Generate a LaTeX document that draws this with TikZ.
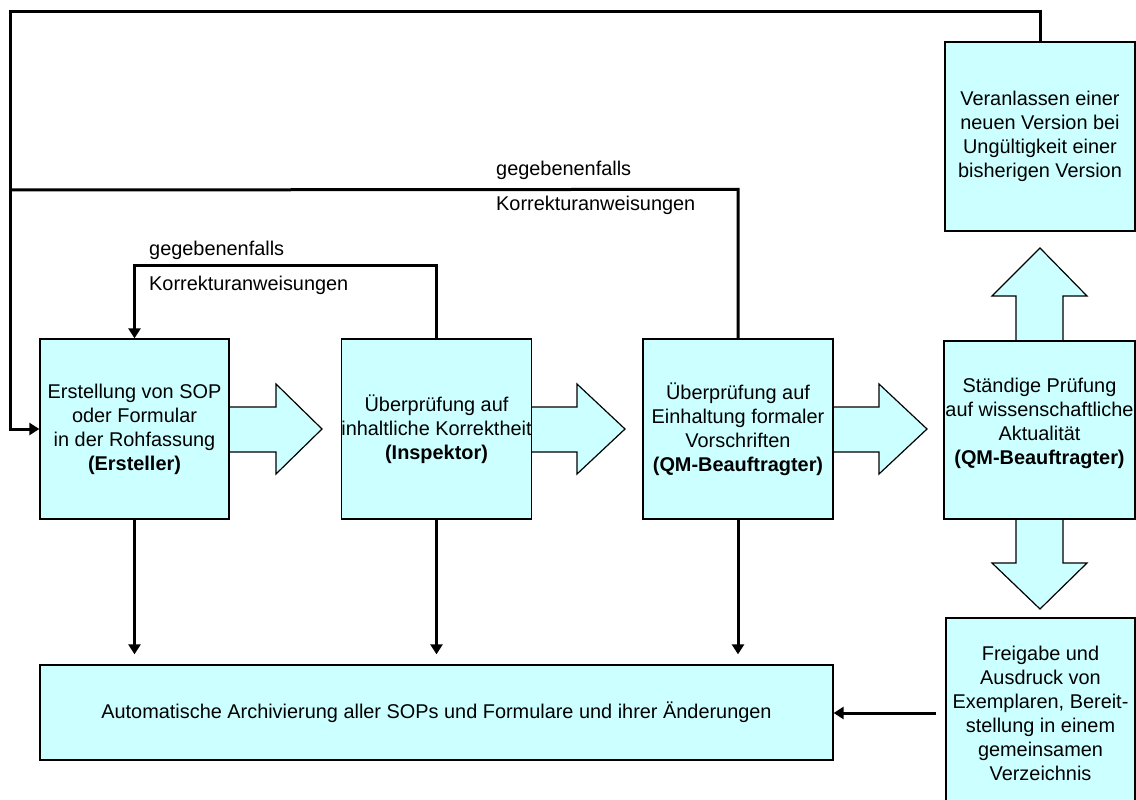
\documentclass[tikz,border=0pt]{standalone}
\usepackage{fontspec}
\setmainfont{Liberation Sans}
\usetikzlibrary{arrows.meta}
\definecolor{boxfill}{HTML}{CCFFFF}
\begin{document}
\begin{tikzpicture}[x=1pt,y=-1pt,
  box/.style={draw=black, line width=1.3pt, fill=boxfill, inner sep=0pt,
    align=center, font=\fontsize{19.9}{24}\selectfont},
  txt/.style={inner sep=0pt, align=center, font=\fontsize{19.9}{24}\selectfont},
  blockarrow/.style={draw=black, line width=1.2pt, fill=boxfill, line join=miter},
  conn/.style={line width=3pt, line join=miter, -{Triangle[length=10pt,width=12pt]}},
  plainline/.style={line width=3pt, line join=miter},
  lbl/.style={anchor=west, inner sep=0pt, font=\fontsize{19.9}{24}\selectfont}]
\useasboundingbox (0,0) rectangle (1136,800);

% broad process arrows (drawn first, boxes cover their inner ends)
\draw[blockarrow] (225,407) -- (276,407) -- (276,384) -- (322,429) -- (276,474) -- (276,452) -- (225,452) -- cycle;
\draw[blockarrow] (527,407) -- (577,407) -- (577,384) -- (625,429) -- (577,474) -- (577,452) -- (527,452) -- cycle;
\draw[blockarrow] (829,407) -- (879,407) -- (879,384) -- (927,429) -- (879,474) -- (879,452) -- (829,452) -- cycle;
\draw[blockarrow] (1016,345) -- (1016,296) -- (992,296) -- (1040,248) -- (1087,296) -- (1063,296) -- (1063,345) -- cycle;
\draw[blockarrow] (1016,515) -- (1016,563) -- (992,563) -- (1040,609) -- (1087,563) -- (1063,563) -- (1063,515) -- cycle;

% process boxes
\node[box, minimum width=189pt, minimum height=180pt] (b1) at (134.5,429)
  {Erstellung von SOP\\oder Formular\\in der Rohfassung\\\textbf{(Ersteller)}};
\node[box, minimum width=189pt, minimum height=180pt] (b2) at (436.5,429)
  {Überprüfung auf\\inhaltliche Korrektheit\\\textbf{(Inspektor)}};
\node[box, minimum width=190pt, minimum height=180pt] (b3) at (738,429)
  {Überprüfung auf\\Einhaltung formaler\\Vorschriften\\\textbf{(QM-Beauftragter)}};
\node[box, minimum width=191pt, minimum height=178pt] (b4) at (1039.5,430) {};
\node[txt] (t4) at (1039.5,423)
  {Ständige Prüfung\\auf wissenschaftliche\\Aktualität\\\textbf{(QM-Beauftragter)}};
\node[box, minimum width=190pt, minimum height=189pt] (b5) at (1040,136.5)
  {Veranlassen einer\\neuen Version bei\\Ungültigkeit einer\\bisherigen Version};
\node[box, minimum width=189pt, minimum height=190pt] (b6) at (1040.5,713)
  {Freigabe und\\Ausdruck von\\Exemplaren, Bereit-\\stellung in einem\\gemeinsamen\\Verzeichnis};
\node[box, minimum width=793pt, minimum height=95pt] (b7) at (436.5,712.5)
  {Automatische Archivierung aller SOPs und Formulare und ihrer Änderungen};

% archiving arrows
\draw[conn, shorten >=10pt] (b1.south) -- (b1.south |- b7.north);
\draw[conn, shorten >=10pt] (b2.south) -- (b2.south |- b7.north);
\draw[conn, shorten >=10pt] (b3.south) -- (b3.south |- b7.north);
\draw[conn, shorten <=9pt] (b6.west) -- (b7.east |- b6.west);

% correction loops
\coordinate (topleft) at (10,12);
\coordinate (join) at (10,190);
\draw[conn] (b2.north) -- ++(0,-73) -| (b1.north);
\draw[plainline] (b3.north) -- ++(0,-149) -- (join);
\draw[conn] (b5.north) |- (topleft) |- (b1.west);

% loop labels
\node[lbl] (g1) at (149,250) {gegebenenfalls};
\node[lbl] (k1) at (149,285) {Korrekturanweisungen};
\node[lbl] (g2) at (496,170) {gegebenenfalls};
\node[lbl] (k2) at (496,205) {Korrekturanweisungen};
\end{tikzpicture}
\end{document}
